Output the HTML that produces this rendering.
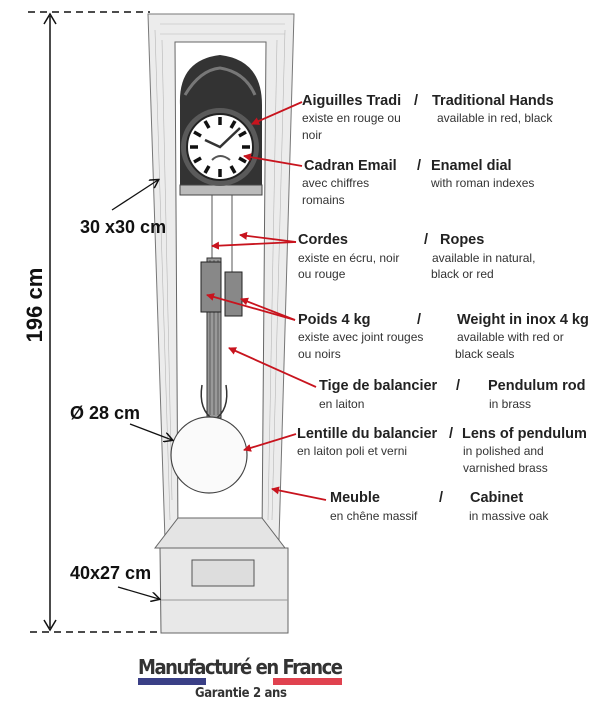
<!DOCTYPE html>
<html><head><meta charset="utf-8"><style>
html,body{margin:0;padding:0;background:#fff}
svg{display:block}
text{font-family:"Liberation Sans",sans-serif;fill:#222}
.b{font-weight:bold;font-size:14.5px}
.r{font-size:12px;fill:#333}
.d{font-weight:bold;font-size:18px;fill:#111}
</style></head><body>
<svg width="600" height="718" viewBox="0 0 600 718" xmlns="http://www.w3.org/2000/svg">
<defs>
<marker id="ar" markerWidth="8" markerHeight="8" refX="7" refY="4" orient="auto" markerUnits="userSpaceOnUse"><path d="M0,0 L8,4 L0,8 Z" fill="#c8141e"/></marker>
<marker id="ak" markerWidth="10" markerHeight="10" refX="8" refY="5" orient="auto" markerUnits="userSpaceOnUse"><path d="M0,0 L9,5 L0,10" fill="none" stroke="#111" stroke-width="1.5"/></marker>
</defs>
<!-- dims -->
<line x1="28" y1="12" x2="150" y2="12" stroke="#111" stroke-width="1.5" stroke-dasharray="7,5"/>
<line x1="30" y1="632" x2="165" y2="632" stroke="#111" stroke-width="1.5" stroke-dasharray="7,5"/>
<line x1="50" y1="16" x2="50" y2="628" stroke="#111" stroke-width="1.5"/>
<path d="M44,24 L50,14 L56,24 M44,620 L50,630 L56,620" fill="none" stroke="#111" stroke-width="1.5"/>
<text class="d" transform="translate(42,305) rotate(-90)" text-anchor="middle" style="font-size:22px">196 cm</text>
<!-- cabinet -->
<path d="M148,14 L294,14 L279,540 L165,540 Z" fill="#ececec" stroke="#777" stroke-width="1"/>
<path d="M175,42 L266,42 L262,538 L178,538 Z" fill="#fff" stroke="#666"/>
<path d="M178,518 L262,518 L285,548 L155,548 Z" fill="#e4e4e4" stroke="#666"/>
<path d="M160,548 L288,548 L288,633 L161,633 Z" fill="#e8e8e8" stroke="#666"/>
<rect x="192" y="560" width="62" height="26" fill="#ddd" stroke="#555"/>
<line x1="161" y1="600" x2="288" y2="600" stroke="#999"/>
<g stroke="#aaa" stroke-width="0.6" opacity="0.8">
<line x1="155" y1="30" x2="170" y2="520"/><line x1="162" y1="40" x2="172" y2="500"/><line x1="285" y1="30" x2="272" y2="520"/><line x1="277" y1="40" x2="268" y2="520"/>
<line x1="160" y1="24" x2="285" y2="24"/><line x1="160" y1="34" x2="285" y2="34"/>
</g>
<!-- clock head -->
<path d="M180,105 Q178,60 220,55 Q262,60 262,105 L262,188 L180,188 Z" fill="#333"/>
<path d="M185,95 Q200,70 220,68 Q245,72 255,95" fill="none" stroke="#777" stroke-width="3"/>
<rect x="180" y="185" width="82" height="10" fill="#bbb" stroke="#444"/>
<circle cx="220" cy="147" r="39" fill="#5a5a5a"/>
<circle cx="220" cy="147" r="33" fill="#fff" stroke="#222" stroke-width="2"/>
<g stroke="#111" stroke-width="3.5">
<line x1="220" y1="117" x2="220" y2="125"/><line x1="220" y1="169" x2="220" y2="177"/>
<line x1="190" y1="147" x2="198" y2="147"/><line x1="242" y1="147" x2="250" y2="147"/>
<line x1="205" y1="121" x2="209" y2="128"/><line x1="235" y1="121" x2="231" y2="128"/>
<line x1="205" y1="173" x2="209" y2="166"/><line x1="235" y1="173" x2="231" y2="166"/>
<line x1="194" y1="132" x2="201" y2="136"/><line x1="246" y1="132" x2="239" y2="136"/>
<line x1="194" y1="162" x2="201" y2="158"/><line x1="246" y1="162" x2="239" y2="158"/>
</g>
<path d="M205,140 L220,147 L240,128" fill="none" stroke="#333" stroke-width="2.5"/>
<path d="M212,160 Q220,152 230,160" fill="none" stroke="#555" stroke-width="2"/>
<!-- ropes -->
<line x1="212" y1="195" x2="212" y2="262" stroke="#555"/><line x1="232" y1="195" x2="232" y2="272" stroke="#555"/>
<!-- rod / weights -->
<rect x="207" y="258" width="14" height="160" fill="#999" stroke="#333"/>
<g stroke="#444" stroke-width="0.7"><line x1="210" y1="260" x2="210" y2="415"/><line x1="214" y1="260" x2="214" y2="415"/><line x1="218" y1="260" x2="218" y2="415"/></g>
<rect x="201" y="262" width="20" height="50" fill="#888" stroke="#222"/>
<rect x="225" y="272" width="17" height="44" fill="#888" stroke="#222"/>
<path d="M202,385 Q198,410 214,420 Q230,410 226,385" fill="none" stroke="#333" stroke-width="1.5"/>
<!-- bob -->
<circle cx="209" cy="455" r="38" fill="#fafafa" stroke="#444" stroke-width="1.2"/>
<!-- dimension labels on top -->
<text class="d" x="80" y="233">30 x30 cm</text>
<line x1="112" y1="210" x2="158" y2="180" stroke="#111" stroke-width="1.3" marker-end="url(#ak)"/>
<text class="d" x="70" y="419">Ø 28 cm</text>
<line x1="130" y1="424" x2="172" y2="440" stroke="#111" stroke-width="1.3" marker-end="url(#ak)"/>
<text class="d" x="70" y="579">40x27 cm</text>
<line x1="118" y1="587" x2="159" y2="599" stroke="#111" stroke-width="1.3" marker-end="url(#ak)"/>
<!-- red arrows -->
<g stroke="#c8141e" stroke-width="1.8" fill="none">
<line x1="302" y1="102" x2="252" y2="124" marker-end="url(#ar)"/>
<line x1="302" y1="166" x2="244" y2="156" marker-end="url(#ar)"/>
<line x1="296" y1="242" x2="240" y2="235" marker-end="url(#ar)"/>
<line x1="296" y1="242" x2="212" y2="246" marker-end="url(#ar)"/>
<line x1="295" y1="320" x2="207" y2="295" marker-end="url(#ar)"/>
<line x1="295" y1="320" x2="241" y2="299" marker-end="url(#ar)"/>
<line x1="316" y1="387" x2="229" y2="348" marker-end="url(#ar)"/>
<line x1="296" y1="434" x2="244" y2="450" marker-end="url(#ar)"/>
<line x1="326" y1="500" x2="272" y2="489" marker-end="url(#ar)"/>
</g>
<!-- labels -->
<text class="b" x="302" y="105">Aiguilles Tradi</text><text class="b" x="414" y="105">/</text><text class="b" x="432" y="105">Traditional Hands</text>
<text class="r" x="302" y="122">existe en rouge ou</text><text class="r" x="437" y="122">available in red, black</text>
<text class="r" x="302" y="139">noir</text>
<text class="b" x="304" y="170">Cadran Email</text><text class="b" x="417" y="170">/</text><text class="b" x="431" y="170">Enamel dial</text>
<text class="r" x="302" y="187">avec chiffres</text><text class="r" x="431" y="187">with roman indexes</text>
<text class="r" x="302" y="204">romains</text>
<text class="b" x="298" y="244">Cordes</text><text class="b" x="424" y="244">/</text><text class="b" x="440" y="244">Ropes</text>
<text class="r" x="298" y="262">existe en écru, noir</text><text class="r" x="432" y="262">available in natural,</text>
<text class="r" x="298" y="278">ou rouge</text><text class="r" x="431" y="278">black or red</text>
<text class="b" x="298" y="324">Poids  4 kg</text><text class="b" x="417" y="324">/</text><text class="b" x="457" y="324">Weight in inox 4 kg</text>
<text class="r" x="298" y="341">existe avec joint rouges</text><text class="r" x="457" y="341">available with red or</text>
<text class="r" x="298" y="358">ou noirs</text><text class="r" x="455" y="358">black seals</text>
<text class="b" x="319" y="390">Tige de balancier</text><text class="b" x="456" y="390">/</text><text class="b" x="488" y="390">Pendulum rod</text>
<text class="r" x="319" y="408">en laiton</text><text class="r" x="489" y="408">in brass</text>
<text class="b" x="297" y="438">Lentille du balancier</text><text class="b" x="449" y="438">/</text><text class="b" x="462" y="438">Lens of pendulum</text>
<text class="r" x="297" y="455">en laiton poli et verni</text><text class="r" x="463" y="455">in polished and</text>
<text class="r" x="463" y="472">varnished brass</text>
<text class="b" x="330" y="502">Meuble</text><text class="b" x="439" y="502">/</text><text class="b" x="470" y="502">Cabinet</text>
<text class="r" x="330" y="520">en chêne massif</text><text class="r" x="469" y="520">in massive oak</text>
<!-- footer -->
<text x="138" y="674" style="font-family:'DejaVu Sans Condensed','DejaVu Sans',sans-serif;font-size:20px;font-weight:bold;fill:#333" textLength="205">Manufacturé en France</text>
<rect x="138" y="678" width="68" height="7" fill="#3a3f86"/>
<rect x="273" y="678" width="69" height="7" fill="#e0424f"/>
<text x="195" y="697" style="font-family:'DejaVu Sans Condensed','DejaVu Sans',sans-serif;font-size:13px;font-weight:bold;fill:#333" textLength="92">Garantie 2 ans</text>
</svg>
</body></html>
